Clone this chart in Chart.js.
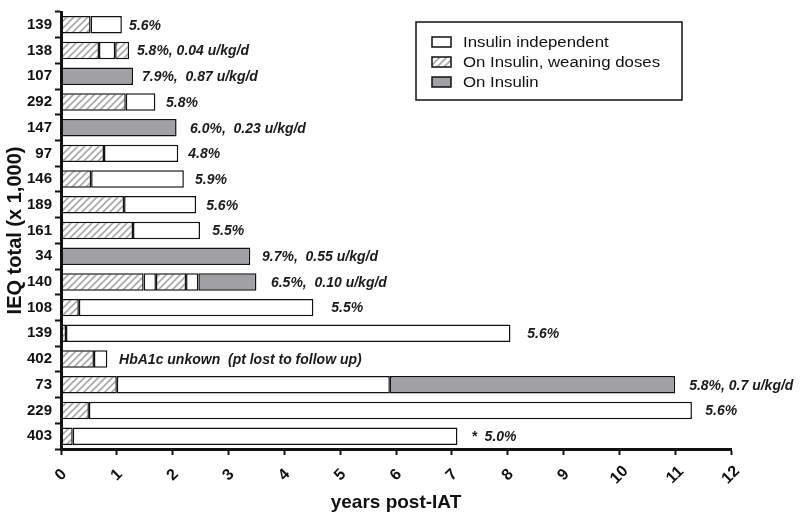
<!DOCTYPE html>
<html>
<head>
<meta charset="utf-8">
<script src="https://cdn.jsdelivr.net/npm/chart.js@4/dist/chart.umd.min.js"></script>
<style>
  html, body { margin: 0; padding: 0; background: #fff; }
  #wrap { width: 800px; height: 514px; position: relative; }
</style>
</head>
<body>
<div id="wrap"><canvas id="swim"></canvas></div>
<script>
// patients (IEQ total x 1,000), top to bottom
const patients = ['139', '138', '107', '292', '147', '97', '146', '189', '161', '34', '140', '108', '139', '402', '73', '229', '403'];
// W = on insulin, weaning doses; I = insulin independent; O = on insulin
const phaseTypes = [
  ['W', 'I'], ['W', 'I', 'W'], ['O'], ['W', 'I'], ['O'], ['W', 'I'], ['W', 'I'], ['W', 'I'], ['W', 'I'], ['O'],
  ['W', 'I', 'W', 'I', 'O'], ['W', 'I'], ['W', 'I'], ['W', 'I'], ['W', 'I', 'O'], ['W', 'I'], ['W', 'I']
];
// end of each phase, years post-IAT
const phaseEnds = [
  [0.53, 1.09], [0.68, 0.97, 1.22], [1.29], [1.16, 1.69], [2.07], [0.77, 2.10], [0.54, 2.20], [1.13, 2.42], [1.29, 2.49], [3.39],
  [1.48, 1.70, 2.24, 2.46, 3.50], [0.32, 4.52], [0.09, 8.05], [0.59, 0.83], [1.00, 5.89, 11.0], [0.50, 11.3], [0.21, 7.10]
];
const notes = [
  '5.6%', '5.8%, 0.04 u/kg/d', '7.9%,  0.87 u/kg/d', '5.8%', '6.0%,  0.23 u/kg/d', '4.8%', '5.9%', '5.6%', '5.5%',
  '9.7%,  0.55 u/kg/d', '6.5%,  0.10 u/kg/d', '5.5%', '5.6%', 'HbA1c unkown  (pt lost to follow up)',
  '5.8%, 0.7 u/kg/d', '5.6%', '*  5.0%'
];
const noteAt = [1.22, 1.36, 1.45, 1.88, 2.31, 2.28, 2.40, 2.60, 2.71, 3.60, 3.76, 4.84, 8.35, 1.04, 11.25, 11.54, 7.35];
const legendLabels = ['Insulin independent', 'On Insulin, weaning doses', 'On Insulin'];
const legendTypes = ['I', 'W', 'O'];

const FONT = "'Liberation Sans', Arial, sans-serif";
const GRAY = '#a1a1a5';

function makeHatch() {
  const c = document.createElement('canvas');
  c.width = 7; c.height = 7;
  const g = c.getContext('2d');
  g.fillStyle = '#fff';
  g.fillRect(0, 0, 7, 7);
  g.strokeStyle = '#a8a8a8';
  g.lineWidth = 1.6;
  g.beginPath();
  g.moveTo(-1, 8); g.lineTo(8, -1);
  g.moveTo(-1, 1); g.lineTo(1, -1);
  g.moveTo(6, 8); g.lineTo(8, 6);
  g.stroke();
  return g.createPattern(c, 'repeat');
}
const hatch = makeHatch();
const fillFor = t => t === 'W' ? hatch : t === 'O' ? GRAY : '#fff';

const maxSeg = Math.max(...phaseEnds.map(r => r.length));
const datasets = [];
for (let k = 0; k < maxSeg; k++) {
  datasets.push({
    data: phaseEnds.map(r => r.length > k ? [k === 0 ? 0 : r[k - 1], r[k]] : null),
    backgroundColor: ctx => {
      const t = phaseTypes[ctx.dataIndex] && phaseTypes[ctx.dataIndex][k];
      return fillFor(t);
    },
    borderColor: '#111',
    borderWidth: 1.5,
    borderSkipped: false,
    grouped: false,
    barPercentage: 0.68,
    categoryPercentage: 1,
  });
}

const notesPlugin = {
  id: 'notes',
  afterDatasetsDraw(chart) {
    const { ctx, scales: { x, y } } = chart;
    ctx.save();
    ctx.font = `italic bold 14px ${FONT}`;
    ctx.fillStyle = '#1a1a1a';
    ctx.textAlign = 'left';
    ctx.textBaseline = 'middle';
    notes.forEach((txt, i) => {
      ctx.fillText(txt, x.getPixelForValue(noteAt[i]), y.getPixelForValue(i) + 1);
    });
    // x tick labels, centred under the ticks and turned 45 degrees
    ctx.font = `bold 16px ${FONT}`;
    ctx.fillStyle = '#111';
    ctx.textAlign = 'center';
    x.ticks.forEach(t => {
      ctx.save();
      ctx.translate(x.getPixelForValue(t.value), x.top + 26);
      ctx.rotate(-Math.PI / 4);
      ctx.fillText(String(t.value), 0, 0);
      ctx.restore();
    });
    ctx.restore();
  }
};

const boxLegend = {
  id: 'boxLegend',
  afterDraw(chart) {
    const ctx = chart.ctx;
    ctx.save();
    ctx.fillStyle = '#fff';
    ctx.fillRect(416, 22, 266, 78);
    ctx.strokeStyle = '#111';
    ctx.lineWidth = 1.5;
    ctx.strokeRect(416, 22, 266, 78);
    ctx.font = `14px ${FONT}`;
    ctx.textBaseline = 'middle';
    legendLabels.forEach((lab, i) => {
      const cy = 42 + i * 20;
      ctx.fillStyle = fillFor(legendTypes[i]);
      ctx.fillRect(432, cy - 5, 19, 10);
      ctx.strokeStyle = '#111';
      ctx.lineWidth = 1.5;
      ctx.strokeRect(432, cy - 5, 19, 10);
      ctx.fillStyle = '#111';
      ctx.save();
      ctx.translate(463, cy + 1);
      ctx.scale(1.2, 1);
      ctx.fillText(lab, 0, 0);
      ctx.restore();
    });
    ctx.restore();
  }
};

new Chart(document.getElementById('swim'), {
  type: 'bar',
  data: { labels: patients, datasets },
  options: {
    indexAxis: 'y',
    responsive: true,
    maintainAspectRatio: false,
    animation: false,
    layout: { padding: { top: 3, right: 69, left: 0, bottom: 0 } },
    plugins: { legend: { display: false }, tooltip: { enabled: false } },
    scales: {
      x: {
        type: 'linear', min: 0, max: 12,
        ticks: { stepSize: 1, display: false },
        grid: { drawOnChartArea: false, drawTicks: true, tickLength: 6, tickWidth: 2, tickColor: '#111' },
        border: { color: '#111', width: 3 },
        title: { display: true, text: 'years post-IAT', color: '#111', font: { family: FONT, size: 19, weight: 'bold' }, padding: { top: 0, bottom: 0 } },
        afterFit(s) { s.height = 65; }
      },
      y: {
        type: 'category',
        ticks: { color: '#111', font: { family: FONT, size: 15, weight: 'bold' }, padding: 3, autoSkip: false },
        grid: { drawOnChartArea: false, drawTicks: true, tickLength: 6, tickWidth: 2, tickColor: '#111', offset: true },
        border: { color: '#111', width: 3 },
        title: { display: true, text: 'IEQ total (x 1,000)', color: '#111', font: { family: FONT, size: 20, weight: 'bold' }, padding: { top: 3, bottom: 0 } },
        afterFit(s) { s.width = 61; }
      }
    }
  },
  plugins: [notesPlugin, boxLegend]
});
</script>
</body>
</html>
